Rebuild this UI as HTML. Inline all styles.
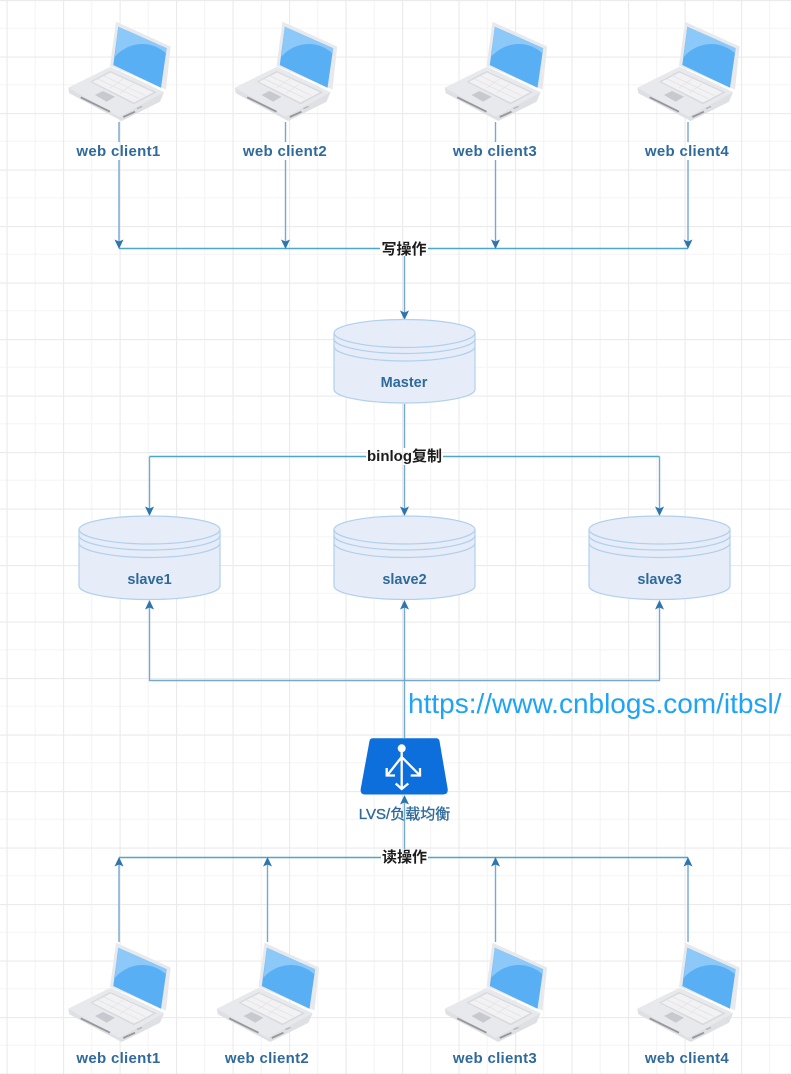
<!DOCTYPE html>
<html><head><meta charset="utf-8"><style>
html,body{margin:0;padding:0;background:#fff;width:791px;height:1074px;overflow:hidden}
svg{display:block;filter:blur(.35px)}
text{font-family:"Liberation Sans","Noto Sans CJK SC",sans-serif}
.l{font-size:14.5px;font-weight:700;fill:#2f6a9b;text-anchor:middle}
.w{font-size:15px;font-weight:700;fill:#2f6a9b;text-anchor:middle;letter-spacing:.3px}
.b{font-size:15px;font-weight:700;fill:#1c1c1c;text-anchor:middle}
.v{stroke:#74a9d0;stroke-width:1.4;fill:none}
.h{stroke:#4ba8cc;stroke-width:1.4;fill:none}
.a{fill:#2d75ad}
</style></head><body>
<svg width="791" height="1074" viewBox="0 0 791 1074" xmlns="http://www.w3.org/2000/svg">
<defs>
<pattern id="g" width="56.5" height="56.5" patternUnits="userSpaceOnUse" x="6.5" y="0">
<path d="M28.75 0V57M0 28.25H57" stroke="#f6f6f7" stroke-width="1.3"/>
<path d="M.5 0V57M0 .5H57" stroke="#ebebed" stroke-width="1.3"/>
</pattern>
<g id="lap">
<path d="M116 21.700L170.700 46.500L166 89.500L110 65.700Z" fill="#e8e9ec"/>
<path d="M118.300 26.700L166.700 48.300L161 87.700L113.300 65Z" fill="#59aff4"/>
<path d="M118.300 26.700L166.700 48.300L166 53.300C150 39 128 42 114.800 56.700Z" fill="#8cc8f8"/>
<path d="M68.300 87.700L110.700 66.700L164 92.300L160 101.700L121.700 121L69.300 93.300Z" fill="#dfe0e4"/>
<path d="M68.300 87.700L110.700 66.700L164 92.300L119.300 116.700Z" fill="#e8e9ed"/>
<path d="M90 81.700L110 71L156.700 92.300L134 104.300Z" fill="#d8d9dd"/>
<path d="M92.500 81.700L110.500 72.500L153.500 92.300L134 102.500Z" fill="#f2f2f4"/>
<path d="M98 79L139 98.500M104 76L145 95.500M110 88L123 79M120 93L133 84" stroke="#e2e2e6" stroke-width=".7" fill="none"/>
<path d="M95 95L103 91L115 96.700L106.700 101.700Z" fill="#c8c9ce"/>
<path d="M80.700 97.300L110 111.700" stroke="#96979c" stroke-width="1.800" fill="none"/>
<path d="M123.300 117L135 111.700" stroke="#96979c" stroke-width="1.800" fill="none"/>
<path d="M137 108.500L142 106.500" stroke="#b4b5ba" stroke-width="1.300" fill="none"/>
</g>
<g id="db">
<path d="M0 13.500C0 6 32 0 70.500 0S141 6 141 13.500V70C141 77.500 109 83.500 70.500 83.500S0 77.500 0 70Z" fill="#e6ecf8" stroke="#afd0ee" stroke-width="1.200"/>
<path d="M0 13.500C0 21 32 28 70.500 28S141 21 141 13.500M0 19.500C0 27 32 34 70.500 34S141 27 141 19.500M0 27C0 34.500 32 41.500 70.500 41.500S141 34.500 141 27" fill="none" stroke="#afd0ee" stroke-width="1.200"/>
</g>
<path id="ad" d="M-4.500-9.500L0-7.500L4.500-9.500L0 0Z" class="a"/>
<path id="au" d="M-4.500 9.500L0 7.500L4.500 9.500L0 0Z" class="a"/>
</defs>
<rect width="791" height="1074" fill="#fff"/>
<rect width="791" height="1074" fill="url(#g)"/>

<use href="#lap"/>
<use href="#lap" x="166.500"/>
<use href="#lap" x="376.500"/>
<use href="#lap" x="569"/>
<use href="#lap" y="921"/>
<use href="#lap" x="148.500" y="921"/>
<use href="#lap" x="376.500" y="921"/>
<use href="#lap" x="569" y="921"/>

<path class="v" d="M119 122V142M119 160V242M285.500 122V142M285.500 160V242M495.500 122V142M495.500 160V242M688 122V142M688 160V242M404.500 256V313"/>
<path class="h" d="M119 248.500H380M428 248.500H688"/>
<use href="#ad" x="119" y="249"/><use href="#ad" x="285.500" y="249"/><use href="#ad" x="495.500" y="249"/><use href="#ad" x="688" y="249"/><use href="#ad" x="404.500" y="320"/>

<path class="v" d="M404.500 404V448M404.500 465V509M149.500 456.500V509M659.500 456.500V509"/>
<path class="h" d="M149.500 456.500H366M443 456.500H659.500"/>
<use href="#ad" x="149.500" y="516"/><use href="#ad" x="404.500" y="516"/><use href="#ad" x="659.500" y="516"/>

<path class="v" d="M149.500 607V680.500H659.500V607M404.500 607V738M404.500 802V849M119 864V942M267.500 864V942M495.500 864V942M688 864V942"/>
<path class="h" d="M119 857.500H381M428 857.500H688"/>
<use href="#au" x="149.500" y="600"/><use href="#au" x="404.500" y="600"/><use href="#au" x="659.500" y="600"/><use href="#au" x="404.500" y="795"/><use href="#au" x="119" y="857"/><use href="#au" x="267.500" y="857"/><use href="#au" x="495.500" y="857"/><use href="#au" x="688" y="857"/>

<use href="#db" x="334" y="319.500"/>
<use href="#db" x="79" y="516"/>
<use href="#db" x="334" y="516"/>
<use href="#db" x="589" y="516"/>
<text class="l" x="404" y="387">Master</text>
<text class="l" x="149.500" y="584">slave1</text>
<text class="l" x="404.500" y="584">slave2</text>
<text class="l" x="659.500" y="584">slave3</text>

<path d="M373 738.300H436Q439 738.300 439.500 741L447.700 789Q448.300 794.500 443 794.500H365Q360 794.500 360.700 789L369.500 741Q370 738.300 373 738.300Z" fill="#0c6fdc"/>
<circle cx="401.700" cy="748.300" r="4" fill="#fff"/>
<g stroke="#fff" stroke-width="2.300" fill="none">
<path d="M401.700 750V788M401.700 757L387.500 775M401.700 757L419.500 775"/>
<path d="M386.700 768V775.500H395M420 768V775.500H410.700M395.700 783.500L401.700 789L408.300 783.500"/>
</g>
<text x="404.500" y="819" text-anchor="middle" font-size="15" fill="#2f6a9b" stroke="#2f6a9b" stroke-width=".35">LVS/负载均衡</text>

<text class="w" x="118.500" y="156">web client1</text>
<text class="w" x="285" y="156">web client2</text>
<text class="w" x="495" y="156">web client3</text>
<text class="w" x="687" y="156">web client4</text>
<text class="w" x="118.500" y="1063">web client1</text>
<text class="w" x="267" y="1063">web client2</text>
<text class="w" x="495" y="1063">web client3</text>
<text class="w" x="687" y="1063">web client4</text>
<text class="b" x="404" y="254">写操作</text>
<text class="b" x="404.500" y="461">binlog复制</text>
<text class="b" x="404.500" y="862">读操作</text>
<text x="408" y="713" font-size="28" fill="#1fa4f5">https://www.cnblogs.com/itbsl/</text>
</svg>
</body></html>
